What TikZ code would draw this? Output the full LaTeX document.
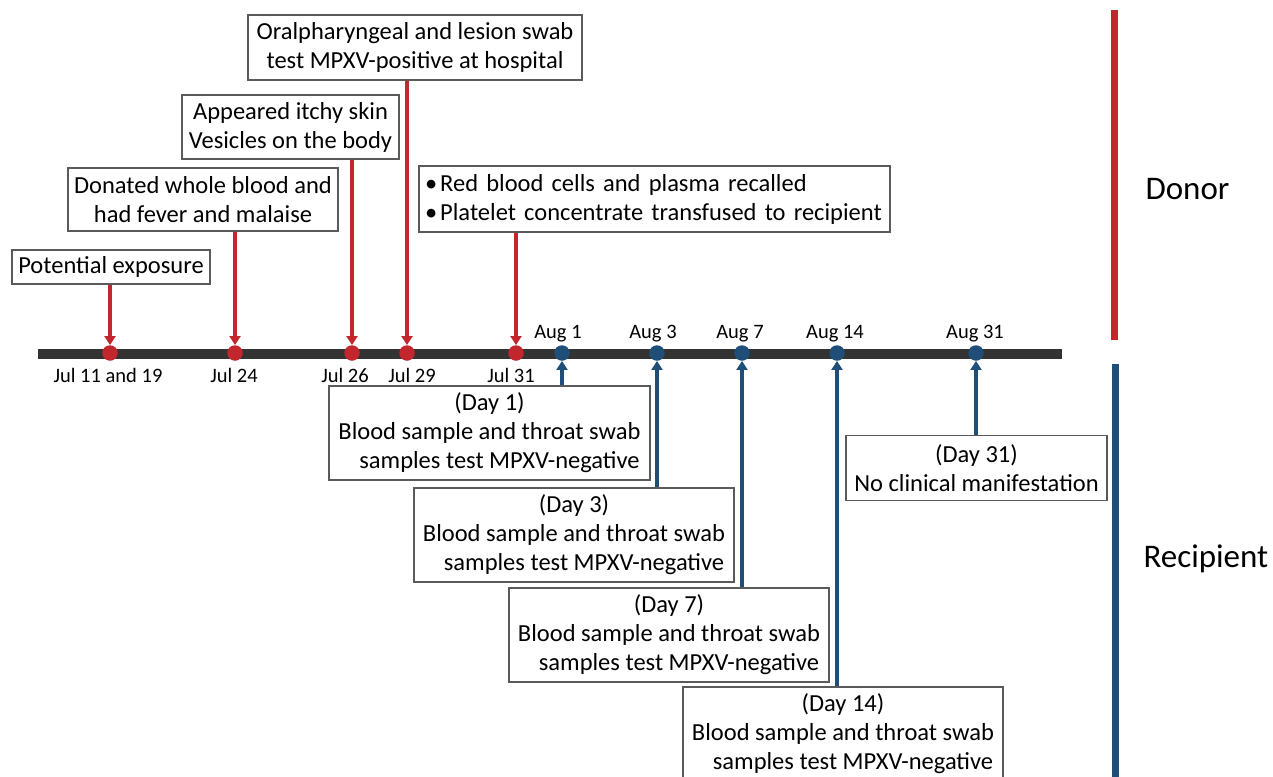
\documentclass[tikz,border=0pt]{standalone}
\usepackage{fontspec}
\setmainfont{Carlito}
\usetikzlibrary{arrows.meta}
\definecolor{dred}{HTML}{C1272D}
\definecolor{dblue}{HTML}{1F4E79}
\definecolor{barcol}{HTML}{333333}
\definecolor{boxline}{HTML}{5A5A5A}
\begin{document}
\begin{tikzpicture}[x=1pt,y=-1pt,
  box/.style={draw=boxline, line width=1.4pt, fill=white, align=center, inner sep=0pt,
    font=\fontsize{24.5}{29}\selectfont},
  datelbl/.style={font=\fontsize{20.5}{24}\selectfont, anchor=base},
  rdot/.style={circle, fill=dred, inner sep=0pt, minimum size=15.5pt},
  bdot/.style={circle, fill=dblue, inner sep=0pt, minimum size=15.5pt},
  rarrow/.style={draw=dred, line width=3.3pt, -{Triangle[length=9pt,width=11pt]}},
  barrow/.style={draw=dblue, line width=3.3pt, -{Triangle[length=9pt,width=11pt]}},
  side/.style={font=\fontsize{33}{40}\selectfont, anchor=base west}]
\useasboundingbox (0,0) rectangle (1273,776);
\fill[white] (0,0) rectangle (1273,776);

% timeline
\coordinate (tl0) at (38,354);
\coordinate (tl1) at (1062,354);
\draw[barcol, line width=10pt] (tl0) -- (tl1);

% dots
\node[rdot] (r1) at (110,353) {};
\node[rdot] (r2) at (235,353) {};
\node[rdot] (r3) at (352,353) {};
\node[rdot] (r4) at (407,353) {};
\node[rdot] (r5) at (516,353) {};
\node[bdot] (b1) at (562,353) {};
\node[bdot] (b2) at (657,353) {};
\node[bdot] (b3) at (742,353) {};
\node[bdot] (b4) at (837,353) {};
\node[bdot] (b5) at (976,353) {};

% date labels
\node[datelbl] (l1) at (108,382) {Jul 11 and 19};
\node[datelbl] (l2) at (234,382) {Jul 24};
\node[datelbl] (l3) at (345,382) {Jul 26};
\node[datelbl] (l4) at (412,382) {Jul 29};
\node[datelbl] (l5) at (511,382) {Jul 31};
\node[datelbl] (l6) at (558,338) {Aug 1};
\node[datelbl] (l7) at (653,338) {Aug 3};
\node[datelbl] (l8) at (740,338) {Aug 7};
\node[datelbl] (l9) at (835,338) {Aug 14};
\node[datelbl] (l10) at (975,338) {Aug 31};

% donor boxes
\node[box, minimum width=198pt, minimum height=34pt] (pe) at (111,267) {Potential exposure};
\node[box, minimum width=270pt, minimum height=63pt] (don) at (203,199.5) {Donated whole blood and\\had fever and malaise};
\node[box, minimum width=217pt, minimum height=64pt] (app) at (290.5,127) {Appeared itchy skin\\Vesicles on the body};
\node[box, minimum width=334pt, minimum height=65pt] (ora) at (415,47.5) {Oralpharyngeal and lesion swab\\test MPXV-positive at hospital};
\node[box, text width=459pt, inner xsep=6pt, minimum height=66pt, align=left] (rbc) at (654.5,199)
  {\textbullet\hspace{3pt}Red blood cells and plasma recalled\\\textbullet\hspace{3pt}Platelet concentrate transfused to recipient};

% recipient boxes
\node[box, minimum width=321pt, minimum height=94pt] (d1) at (489.5,433)
  {(Day 1)\\Blood sample and throat swab\\\hspace*{20pt}samples test MPXV-negative};
\node[box, minimum width=320pt, minimum height=94pt] (d3) at (574,535)
  {(Day 3)\\Blood sample and throat swab\\\hspace*{20pt}samples test MPXV-negative};
\node[box, minimum width=320pt, minimum height=94pt] (d7) at (669,635)
  {(Day 7)\\Blood sample and throat swab\\\hspace*{20pt}samples test MPXV-negative};
\node[box, minimum width=320pt, minimum height=94pt] (d14) at (843,734)
  {(Day 14)\\Blood sample and throat swab\\\hspace*{20pt}samples test MPXV-negative};
\node[box, minimum width=261pt, minimum height=65pt] (d31) at (976.5,468)
  {(Day 31)\\No clinical manifestation};

% red arrows
\draw[rarrow] (pe.south -| r1) -- (r1.north);
\draw[rarrow] (don.south -| r2) -- (r2.north);
\draw[rarrow] (app.south -| r3) -- (r3.north);
\draw[rarrow] (ora.south -| r4) -- (r4.north);
\draw[rarrow] (rbc.south -| r5) -- (r5.north);

% blue arrows
\draw[barrow] (d1.north -| b1) -- (b1.south);
\draw[barrow] (d3.north -| b2) -- (b2.south);
\draw[barrow] (d7.north -| b3) -- (b3.south);
\draw[barrow] (d14.north -| b4) -- (b4.south);
\draw[barrow] (d31.north -| b5) -- (b5.south);

% side bars
\coordinate (dn0) at (1114.5,10);
\coordinate (dn1) at (1114.5,340);
\coordinate (rc0) at (1115.5,364);
\coordinate (rc1) at (1115.5,780);
\draw[dred, line width=6.5pt] (dn0) -- (dn1);
\draw[dblue, line width=6.5pt] (rc0) -- (rc1);
\node[side] (donor) at (1142,199) {Donor};
\node[side] (recip) at (1140,567) {Recipient};
\end{tikzpicture}
\end{document}
